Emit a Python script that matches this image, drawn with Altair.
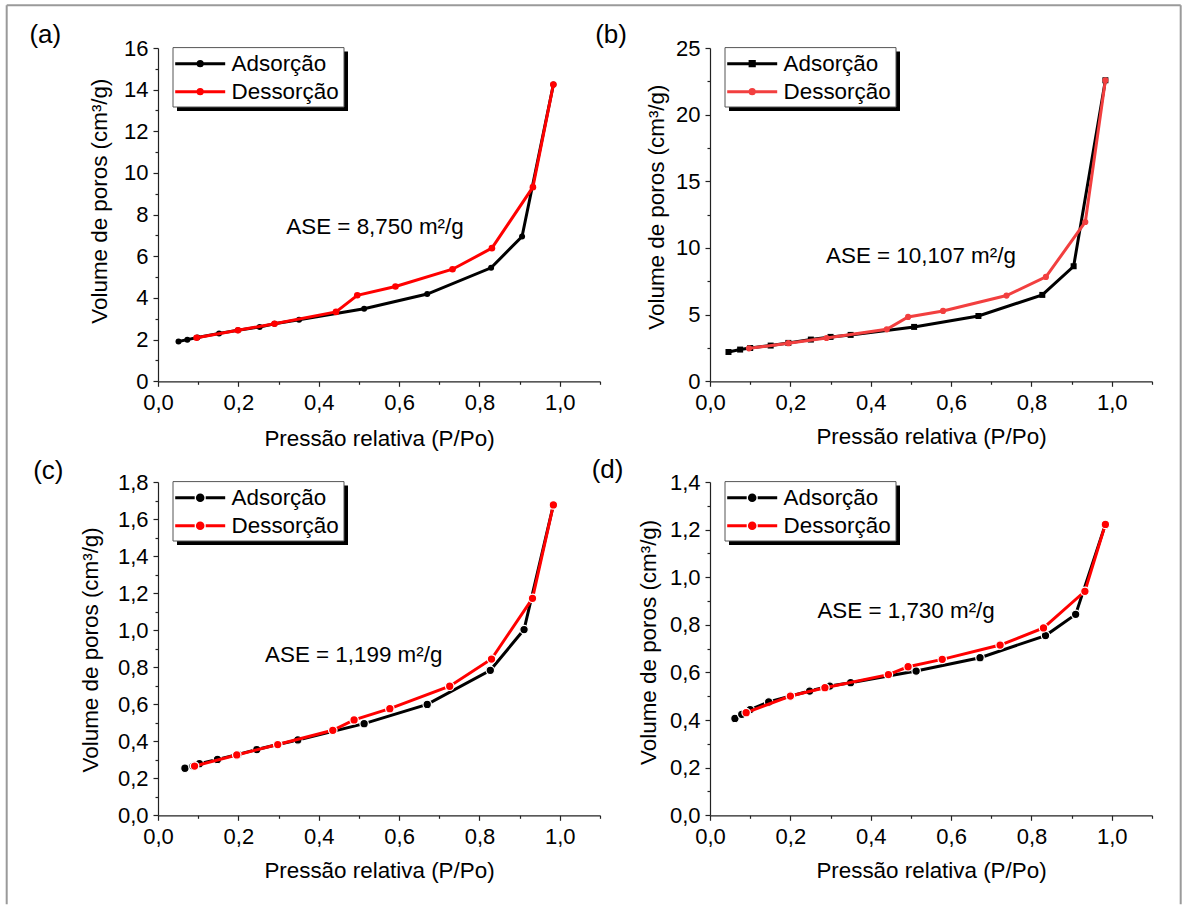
import altair as alt
import pandas as pd

FONT = "Liberation Sans"
SERIES = ["Adsorção", "Dessorção"]
BLACK = "#000000"

# ---------------- data ----------------
A_ADS_X = [0.051, 0.073, 0.098, 0.152, 0.199, 0.253, 0.290, 0.351, 0.513, 0.670, 0.829, 0.906, 0.984]
A_ADS_Y = [1.91, 2.00, 2.10, 2.30, 2.45, 2.61, 2.76, 2.95, 3.48, 4.19, 5.45, 6.95, 14.25]
A_DES_X = [0.984, 0.933, 0.831, 0.733, 0.591, 0.496, 0.443, 0.290, 0.199, 0.096]
A_DES_Y = [14.25, 9.32, 6.39, 5.38, 4.55, 4.13, 3.33, 2.76, 2.45, 2.09]

B_ADS_X = [0.046, 0.075, 0.100, 0.151, 0.195, 0.251, 0.300, 0.350, 0.508, 0.668, 0.827, 0.905, 0.984]
B_ADS_Y = [2.20, 2.38, 2.50, 2.68, 2.88, 3.13, 3.33, 3.48, 4.08, 4.90, 6.48, 8.63, 22.58]
B_DES_X = [0.984, 0.934, 0.836, 0.738, 0.580, 0.493, 0.440, 0.290, 0.195, 0.097]
B_DES_Y = [22.58, 11.95, 7.83, 6.43, 5.28, 4.83, 3.90, 3.25, 2.86, 2.47]

C_ADS_X = [0.067, 0.087, 0.103, 0.148, 0.199, 0.246, 0.298, 0.348, 0.513, 0.670, 0.827, 0.911, 0.984]
C_ADS_Y = [0.254, 0.266, 0.279, 0.302, 0.329, 0.355, 0.382, 0.407, 0.495, 0.599, 0.783, 1.003, 1.676]
C_DES_X = [0.984, 0.932, 0.830, 0.726, 0.577, 0.488, 0.435, 0.298, 0.196, 0.091]
C_DES_Y = [1.676, 1.172, 0.844, 0.697, 0.576, 0.515, 0.459, 0.382, 0.326, 0.266]

D_ADS_X = [0.062, 0.079, 0.100, 0.146, 0.201, 0.248, 0.298, 0.350, 0.513, 0.672, 0.835, 0.910, 0.984]
D_ADS_Y = [0.407, 0.424, 0.444, 0.476, 0.501, 0.522, 0.543, 0.557, 0.606, 0.662, 0.755, 0.844, 1.222]
D_DES_X = [0.984, 0.933, 0.830, 0.722, 0.578, 0.493, 0.444, 0.286, 0.200, 0.090]
D_DES_Y = [1.222, 0.941, 0.787, 0.715, 0.655, 0.624, 0.591, 0.536, 0.501, 0.431]

PANEL_LABELS = ["(a)", "(b)", "(c)", "(d)"]
ASE_TEXT = ["ASE = 8,750 m²/g", "ASE = 10,107 m²/g", "ASE = 1,199 m²/g", "ASE = 1,730 m²/g"]
ASE_X = [0.540, 0.525, 0.487, 0.488]
ASE_Y = [7.08, 8.91, 0.829, 0.827]

X_MAX = 1.1
X_MAJOR = [0.0, 0.2, 0.4, 0.6, 0.8, 1.0]
X_MINOR = [0.1, 0.3, 0.5, 0.7, 0.9, 1.1]
Y_MAX = [16, 25, 1.8, 1.4]
Y_MAJOR = [
    [0, 2, 4, 6, 8, 10, 12, 14, 16],
    [0, 5, 10, 15, 20, 25],
    [0.0, 0.2, 0.4, 0.6, 0.8, 1.0, 1.2, 1.4, 1.6, 1.8],
    [0.0, 0.2, 0.4, 0.6, 0.8, 1.0, 1.2, 1.4],
]
Y_MINOR = [
    [1, 3, 5, 7, 9, 11, 13, 15],
    [2.5, 7.5, 12.5, 17.5, 22.5],
    [0.1, 0.3, 0.5, 0.7, 0.9, 1.1, 1.3, 1.5, 1.7],
    [0.1, 0.3, 0.5, 0.7, 0.9, 1.1, 1.3],
]
ADS_X = [A_ADS_X, B_ADS_X, C_ADS_X, D_ADS_X]
ADS_Y = [A_ADS_Y, B_ADS_Y, C_ADS_Y, D_ADS_Y]
DES_X = [A_DES_X, B_DES_X, C_DES_X, D_DES_X]
DES_Y = [A_DES_Y, B_DES_Y, C_DES_Y, D_DES_Y]

# ---------------- styling / layout ----------------
W, H = 442, 333.3
STYLE = [
    dict(red="#ff0000", ads_shape="circle", ads_size=36, des_size=44, outline=0.0,
         ytx=-46.3, yty=152.6, xty=64, ldx=-128.6, ldy=-4.9, mark_r=3.6, gap=0),
    dict(red="#f23f3f", ads_shape="square", ads_size=36, des_size=38, outline=0.0,
         ytx=-41.9, yty=158.6, xty=62, ldx=-114.8, ldy=-5.0, mark_r=3.6, gap=0),
    dict(red="#ff0000", ads_shape="circle", ads_size=72, des_size=72, outline=1.2,
         ytx=-55.9, yty=167.3, xty=62, ldx=-124.8, ldy=-3.2, mark_r=4.3, gap=1.2),
    dict(red="#ff0000", ads_shape="circle", ads_size=72, des_size=72, outline=1.2,
         ytx=-49.5, yty=159.8, xty=62, ldx=-118.3, ldy=-4.2, mark_r=4.3, gap=1.2),
]
COMMA = "replace(format(datum.value, '.1f'), '.', ',')"
TICK_FS = 22
TITLE_FS = 22.4
LEG_FS = 22.4
LEG_PAD = 4.5
LEG_ROWPAD = 5
LEG_LABEL_OFF = 34
# legend frame (drawn as marks) relative to the plot's top-left corner
BOX_X1, BOX_X2, BOX_Y1, BOX_Y2 = 15, 186, -0.4, 59
SHADOW = 4
LEG_X, LEG_Y = 12.7, 0


def legend_path(shape, r_vis, gap):
    half = LEG_FS / 2.0
    x0, x1 = -half, 50 - half
    cx = 25 - half
    if gap > 0:
        g = r_vis + gap
        p = f"M{x0:.2f},0H{cx - g:.2f}M{cx + g:.2f},0H{x1:.2f}"
    else:
        p = f"M{x0:.2f},0H{x1:.2f}"
    r = max(r_vis - 1.5, 0.3)
    if shape == "square":
        p += f"M{cx - r:.2f},{-r:.2f}H{cx + r:.2f}V{r:.2f}H{cx - r:.2f}Z"
    else:
        p += (f"M{cx + r:.2f},0A{r:.2f},{r:.2f},0,1,1,{cx - r:.2f},0"
              f"A{r:.2f},{r:.2f},0,1,1,{cx + r:.2f},0Z")
    return p


def panel(i):
    st = STYLE[i]
    ads = pd.DataFrame({"x": ADS_X[i], "y": ADS_Y[i], "series": SERIES[0]})
    des = pd.DataFrame({"x": DES_X[i], "y": DES_Y[i], "series": SERIES[1]})
    both = pd.concat([ads, des], ignore_index=True)
    ase = pd.DataFrame({"x": [ASE_X[i]], "y": [ASE_Y[i]], "t": [ASE_TEXT[i]]})
    one = pd.DataFrame({"k": [0]})

    xs = alt.Scale(domain=[0, X_MAX], nice=False, zero=False)
    ys = alt.Scale(domain=[0, Y_MAX[i]], nice=False, zero=False)
    cs = alt.Scale(domain=SERIES, range=[BLACK, st["red"]])
    ss = alt.Scale(domain=SERIES, range=[legend_path(st["ads_shape"], st["mark_r"], st["gap"]),
                                         legend_path("circle", st["mark_r"], st["gap"])])

    yfmt = dict(format="d") if i < 2 else dict(labelExpr=COMMA)
    x_main = alt.Axis(orient="bottom", values=X_MAJOR, labelExpr=COMMA, tickSize=5,
                      labelPadding=6, labelFontSize=TICK_FS, title="Pressão relativa (P/Po)",
                      titleFontSize=TITLE_FS, titleY=st["xty"], titleBaseline="alphabetic",
                      labelFlush=False, labelOverlap=False)
    y_main = alt.Axis(orient="left", values=Y_MAJOR[i], tickSize=5, labelPadding=5,
                      labelFontSize=TICK_FS, title="Volume de poros (cm³/g)",
                      titleFontSize=TITLE_FS, titleX=st["ytx"], titleY=st["yty"],
                      titleBaseline="bottom", labelFlush=False, labelOverlap=False, **yfmt)
    x_minor = alt.Axis(orient="bottom", values=X_MINOR, labels=False, tickSize=3,
                       domain=False, title="")
    y_minor = alt.Axis(orient="left", values=Y_MINOR[i], labels=False, tickSize=3,
                       domain=False, title="")

    legend = alt.Legend(
        orient="none", legendX=LEG_X, legendY=LEG_Y, title=None, direction="vertical",
        symbolSize=4, symbolStrokeWidth=3, symbolOpacity=1,
        labelFont=FONT, labelFontSize=LEG_FS, labelColor="black", labelOffset=LEG_LABEL_OFF,
        labelLimit=400, rowPadding=LEG_ROWPAD, padding=LEG_PAD,
    )

    layers = []
    if i == 0:
        # outer gray frame of the figure (left, top, right sides)
        L, T, R, B = 6 - 157.3, 5 - 47.7, 1180 - 157.3, 904 - 47.7
        frame = dict(color="#9a9a9a", strokeWidth=2)
        layers.append(alt.Chart(one).mark_rule(**frame).encode(
            x=alt.value(L), y=alt.value(T), y2=alt.value(B)))
        layers.append(alt.Chart(one).mark_rule(**frame).encode(
            x=alt.value(R), y=alt.value(T), y2=alt.value(B)))
        layers.append(alt.Chart(one).mark_rule(**frame).encode(
            x=alt.value(L), x2=alt.value(R), y=alt.value(T)))

    # invisible layer that only carries the legend's line+marker symbols
    layers.append(alt.Chart(both).mark_point(filled=True, opacity=0, size=4, strokeWidth=3).encode(
        x=alt.X("x:Q", scale=xs, axis=None),
        y=alt.Y("y:Q", scale=ys, axis=None),
        color=alt.Color("series:N", scale=cs, legend=legend),
        shape=alt.Shape("series:N", scale=ss, legend=legend),
    ))

    line_kw = dict(strokeWidth=3)
    layers.append(alt.Chart(ads).mark_line(**line_kw).encode(
        x=alt.X("x:Q", scale=xs, axis=x_main),
        y=alt.Y("y:Q", scale=ys, axis=y_main),
        color=alt.Color("series:N", scale=cs, legend=legend),
    ))
    pt_kw = dict(filled=True, opacity=1)
    if st["outline"] > 0:
        pt_kw.update(stroke="white", strokeWidth=st["outline"])
    layers.append(alt.Chart(ads).mark_point(shape=st["ads_shape"], size=st["ads_size"], **pt_kw).encode(
        x=alt.X("x:Q", scale=xs, axis=x_minor),
        y=alt.Y("y:Q", scale=ys, axis=y_minor),
        color=alt.Color("series:N", scale=cs, legend=None),
    ))
    layers.append(alt.Chart(des).mark_line(**line_kw).encode(
        x=alt.X("x:Q", scale=xs, axis=None),
        y=alt.Y("y:Q", scale=ys, axis=None),
        color=alt.Color("series:N", scale=cs, legend=None),
    ))
    layers.append(alt.Chart(des).mark_point(shape="circle", size=st["des_size"], **pt_kw).encode(
        x=alt.X("x:Q", scale=xs, axis=None),
        y=alt.Y("y:Q", scale=ys, axis=None),
        color=alt.Color("series:N", scale=cs, legend=None),
    ))
    layers.append(alt.Chart(ase).mark_text(align="center", baseline="alphabetic", font=FONT,
                                           fontSize=TITLE_FS, color="black").encode(
        x=alt.X("x:Q", scale=xs, axis=None),
        y=alt.Y("y:Q", scale=ys, axis=None),
        text="t:N",
    ))
    layers.append(alt.Chart(one).mark_text(text=PANEL_LABELS[i], align="left", baseline="alphabetic",
                                           font=FONT, fontSize=26, color="black").encode(
        x=alt.value(st["ldx"]), y=alt.value(st["ldy"])))

    # legend frame: black drop shadow, then white box with a thin gray border
    layers.append(alt.Chart(one).mark_rect(color="black").encode(
        x=alt.value(BOX_X1 + SHADOW), x2=alt.value(BOX_X2 + SHADOW),
        y=alt.value(BOX_Y1 + SHADOW), y2=alt.value(BOX_Y2 + SHADOW)))
    layers.append(alt.Chart(one).mark_rect(fill="white", stroke="#555555", strokeWidth=1).encode(
        x=alt.value(BOX_X1), x2=alt.value(BOX_X2),
        y=alt.value(BOX_Y1), y2=alt.value(BOX_Y2)))

    return alt.layer(*layers).resolve_axis(x="independent", y="independent").properties(
        width=W, height=H)


chart = alt.concat(
    panel(0), panel(1), panel(2), panel(3),
    columns=2, spacing={"row": 100, "column": 110}, bounds="flush",
).resolve_scale(color="independent", shape="independent").resolve_legend(
    color="independent", shape="independent"
).properties(
    padding={"left": 5, "top": 4, "right": 0, "bottom": 0}
).configure_view(strokeWidth=0).configure_axis(
    labelFont=FONT, titleFont=FONT, labelColor="black", titleColor="black",
    titleFontWeight="normal", domainColor="#222222", tickColor="#222222",
    domainWidth=1.2, tickWidth=1.2, grid=False,
)

chart.save("out.html", embed_options={"renderer": "svg", "actions": False})
